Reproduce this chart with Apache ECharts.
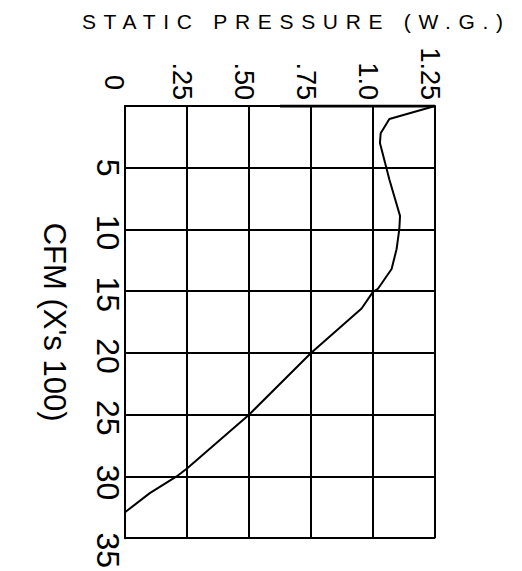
<!DOCTYPE html>
<html>
<head>
<meta charset="utf-8">
<style>
html,body{margin:0;padding:0;background:#fff;}
#chart{width:522px;height:571px;}
</style>
<script src="https://cdn.jsdelivr.net/npm/echarts@6/dist/echarts.min.js"></script>
</head>
<body>
<div id="chart"></div>
<script>
// Tick labels
const pressureTicks = ['0', '.25', '.50', '.75', '1.0', '1.25'];
const cfmTicks = ['', '5', '10', '15', '20', '25', '30', '35'];
// Curve: CFM (x 100) vs static pressure (W.G.)
const cfm      = [0,    1.05,  2.2,   3.0,   5.95,  8.9,   10.0,  11.6,  13.2,  14.8, 15.05, 16.4,  20,   25,  29.35, 30,    31.35, 32.9];
const pressure = [1.25, 1.066, 1.031, 1.028, 1.066, 1.109, 1.106, 1.095, 1.075, 1.02, 1.0,   0.954, 0.75, 0.5, 0.25,  0.208, 0.1,   0];
// heavier segment on the top frame edge
const topEdgeP = [0.625, 1.25];
const topEdgeC = [0, 0];

const titleText = 'STATIC PRESSURE (W.G.)';
const cfmName = "CFM (X's 100)";
const FONT = 'Liberation Sans';

// small hand-lettering offsets of the CFM tick labels (style only)
const cfmLabelStyle = ['', '', 'a', 'a', 'a', 'a', 'b', 'c'];

const chart = echarts.init(document.getElementById('chart'), null, {renderer: 'svg'});
const lbl = {fontFamily: FONT, fontSize: 32, color: '#000'};
chart.setOption({
  animation: false,
  backgroundColor: '#fff',
  grid: {left: 125, right: 87, top: 106, bottom: 29, containLabel: false},
  graphic: [{
    type: 'text', x: 296.3, y: 21,
    style: {text: titleText, fontFamily: FONT, fontSize: 21, fill: '#000', textAlign: 'center', textVerticalAlign: 'middle'}
  }],
  xAxis: {
    type: 'value', position: 'top', min: 0, max: 1.25, interval: 0.25,
    axisLine: {show: true, lineStyle: {color: '#000', width: 2}},
    axisTick: {show: false},
    splitLine: {show: true, lineStyle: {color: '#000', width: 2}},
    axisLabel: {
      rotate: -90, margin: 6, fontFamily: FONT, fontSize: 27, color: '#000',
      padding: [10, 0, 0, 0],
      formatter: v => {
        const i = Math.round(v / 0.25);
        return i === 0 ? '{z|' + pressureTicks[i] + '}' : pressureTicks[i];
      },
      rich: {z: {fontFamily: FONT, fontSize: 27, color: '#000', padding: [12, 10, 0, 0]}}
    }
  },
  yAxis: {
    type: 'value', inverse: true, min: 0, max: 35, interval: 5,
    name: cfmName, nameLocation: 'middle', nameRotate: -90, nameGap: 55,
    nameTextStyle: {fontFamily: FONT, fontSize: 31, color: '#000'},
    axisLine: {show: true, lineStyle: {color: '#000', width: 2}},
    axisTick: {show: false},
    splitLine: {show: true, lineStyle: {color: '#000', width: 2}},
    axisLabel: {
      rotate: -90, margin: 1, fontFamily: FONT, fontSize: 32, color: '#000',
      formatter: v => {
        const i = Math.round(v / 5);
        const s = cfmLabelStyle[i];
        return s ? '{' + s + '|' + cfmTicks[i] + '}' : cfmTicks[i];
      },
      rich: {
        a: Object.assign({padding: [0, 0, 0, 6]}, lbl),
        b: Object.assign({padding: [0, 0, 0, 12]}, lbl),
        c: Object.assign({padding: [0, 0, 0, 24]}, lbl)
      }
    }
  },
  series: [{
    type: 'line', symbol: 'none', smooth: false,
    lineStyle: {color: '#000', width: 2},
    data: cfm.map((c, i) => [pressure[i], c])
  }, {
    type: 'line', symbol: 'none',
    lineStyle: {color: '#000', width: 3},
    data: topEdgeP.map((p, i) => [p, topEdgeC[i]])
  }]
});
// widen the drafting-style title lettering
document.querySelectorAll('#chart text').forEach(t => {
  if (t.textContent === titleText) t.style.letterSpacing = '7.7px';
});
</script>
</body>
</html>
